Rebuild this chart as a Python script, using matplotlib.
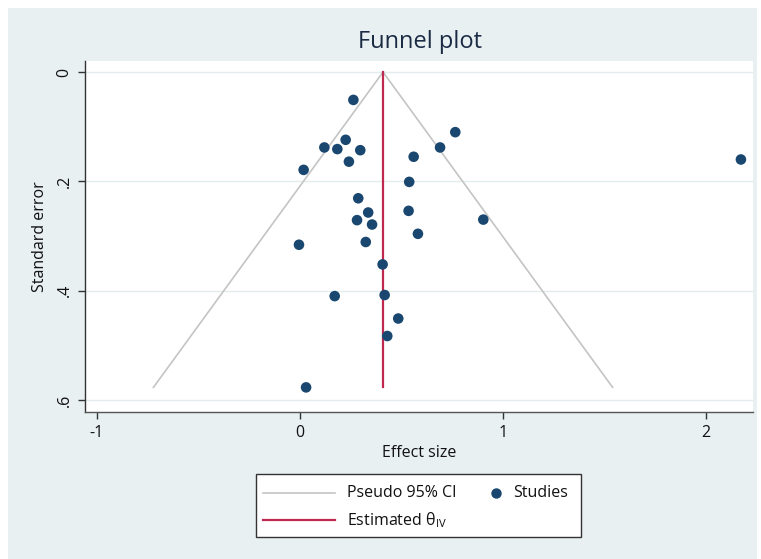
import matplotlib
matplotlib.use("Agg")
import matplotlib.pyplot as plt
from matplotlib.lines import Line2D
from matplotlib.patches import Rectangle
import numpy as np

# Data
effect_size = [0.263, 0.765, 0.690, 0.225, 0.120, 0.184, 0.297, 0.241, 0.560, 0.018,
               0.538, 0.287, 0.336, 0.535, 0.903, 0.281, 0.355, 0.581, -0.005, 0.324,
               0.407, 0.171, 0.417, 0.484, 0.430, 0.030, 2.172]
std_error = [0.051, 0.110, 0.138, 0.124, 0.138, 0.141, 0.143, 0.164, 0.155, 0.179,
             0.201, 0.231, 0.257, 0.254, 0.270, 0.271, 0.279, 0.296, 0.316, 0.311,
             0.352, 0.410, 0.408, 0.451, 0.483, 0.577, 0.160]
theta_iv = 0.409
se_max = 0.577
x_ticks = [-1, 0, 1, 2]
y_ticks = [0, 0.2, 0.4, 0.6]
y_ticklabels = ["0", ".2", ".4", ".6"]
legend_labels = ['Pseudo 95% CI', r'Estimated θ$_{\rm IV}$', 'Studies']

plt.rcParams['font.family'] = ['Open Sans', 'DejaVu Sans']
plt.rcParams['mathtext.fontset'] = 'custom'
plt.rcParams['mathtext.rm'] = 'Open Sans'
plt.rcParams['axes.unicode_minus'] = False

BG = '#e8f0f2'
NAVY = '#1a476f'
RED = '#c0284f'
GRAY = '#c4c4c4'
W, H = 761, 559

def fx(px):
    return px / W

def fy(py):
    return 1 - py / H

fig = plt.figure(figsize=(7.61, 5.59), dpi=100, facecolor='white')
fig.patches.append(Rectangle((fx(8), 0), (757 - 8) / W, (H - 8) / H, transform=fig.transFigure,
                             facecolor=BG, edgecolor='none', zorder=-10))

ax = fig.add_axes([fx(85), fy(412.3), (752.7 - 85) / W, (412.3 - 61) / H])
ax.set_facecolor('white')

# funnel (pseudo 95% CI)
z = 1.96
ax.plot([theta_iv - z * se_max, theta_iv, theta_iv + z * se_max], [se_max, 0, se_max],
        color=GRAY, lw=1.2, zorder=2)
ax.plot([theta_iv, theta_iv], [0, se_max], color=RED, lw=1.6, zorder=3)
ax.scatter(effect_size, std_error, s=58, color=NAVY, edgecolors='none', zorder=4)

ax.set_xlim(-1.059, 2.230)
ax.set_ylim(0.6226, -0.0202)
ax.set_xticks(x_ticks)
ax.set_yticks(y_ticks)
ax.set_yticklabels(y_ticklabels, rotation=90, va='center')
ax.yaxis.grid(True, color='#e3ecef', lw=1.0, zorder=0)
ax.set_axisbelow(True)
for s in ['top', 'right']:
    ax.spines[s].set_visible(False)
ax.spines['left'].set_color('#333333')
ax.spines['bottom'].set_color('#555555')
ax.spines['left'].set_linewidth(1.0)
ax.spines['bottom'].set_linewidth(1.0)
ax.tick_params(axis='both', direction='out', length=5, width=1.0, color='#333333',
               labelsize=11.5, labelcolor='#111111', pad=4)
ax.set_xlabel('Effect size', fontsize=11.5, color='#111111', labelpad=3)
ax.set_ylabel('Standard error', fontsize=11.5, color='#111111', labelpad=6)
fig.text(fx(420), fy(42), 'Funnel plot', ha='center', va='center', fontsize=17, color='#1c2b44')

# legend box drawn by hand to match layout
fig.patches.append(Rectangle((fx(255.7), fy(537.3)), (581 - 255.7) / W, (537.3 - 474.3) / H,
                             transform=fig.transFigure, facecolor='white', edgecolor='#333333',
                             lw=1.0, zorder=5))
fig.lines.append(Line2D([fx(263), fx(335)], [fy(493.3), fy(493.3)], transform=fig.transFigure,
                        color=GRAY, lw=1.2, zorder=6))
fig.lines.append(Line2D([fx(263), fx(335)], [fy(520), fy(520)], transform=fig.transFigure,
                        color=RED, lw=1.6, zorder=6))
fig.lines.append(Line2D([fx(496)], [fy(493.3)], transform=fig.transFigure, ls='none',
                        marker='o', markersize=7.5, color=NAVY, markeredgewidth=0, zorder=6))
fig.text(fx(347), fy(493.3), legend_labels[0], ha='left', va='center', fontsize=11.5, color='#111111', zorder=7)
fig.text(fx(347), fy(520), legend_labels[1], ha='left', va='center', fontsize=11.5, color='#111111', zorder=7)
fig.text(fx(513), fy(493.3), legend_labels[2], ha='left', va='center', fontsize=11.5, color='#111111', zorder=7)

fig.savefig('out.png', dpi=100, facecolor=fig.get_facecolor())
